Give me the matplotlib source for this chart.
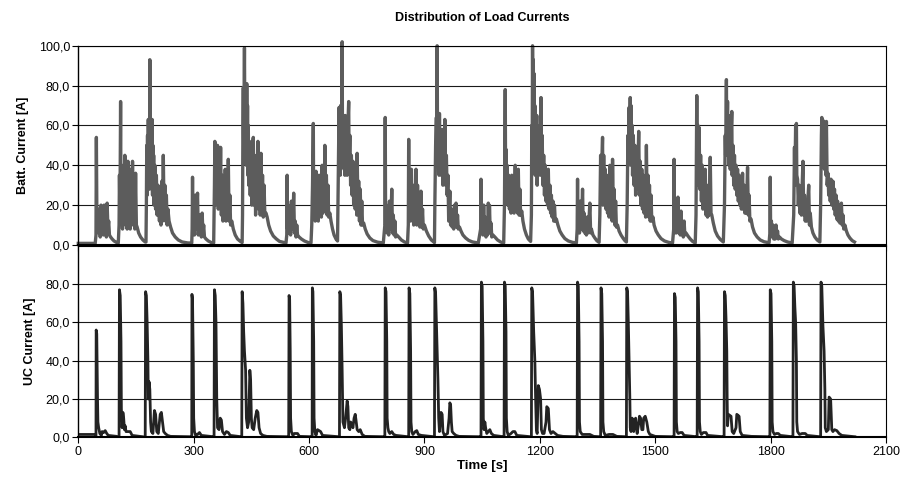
import numpy as np
import matplotlib
matplotlib.use('Agg')
from matplotlib import pyplot as plt
from matplotlib.ticker import FuncFormatter

plt.rcParams['font.family'] = ['Liberation Sans', 'DejaVu Sans']

# Battery current, (time [s], current [A])
batt_pts = [
    (0, 0.8), (44, 0.8),
    # 46 s
    (46, 5), (47, 54), (48.5, 8), (51, 18), (53, 6), (55, 16), (57, 4), (59, 20), (61, 7), (63, 14), (65, 5),
    (67, 20), (69, 8), (71, 15), (73, 4), (75, 21), (77, 8), (79, 12), (81, 5), (84, 4), (88, 3), (93, 2), (100, 1.2), (104, 1),
    # 106 s
    (106, 10), (107, 35), (108, 20), (109, 38), (110, 72), (111, 15), (113, 30), (115, 8), (117, 40), (119, 12), (121, 45),
    (123, 10), (125, 35), (127, 8), (129, 42), (131, 15), (133, 30), (135, 8), (137, 38), (139, 12), (141, 42), (143, 10),
    (145, 32), (147, 8), (149, 36), (151, 10), (153, 9), (157, 6), (162, 4), (168, 2.5), (174, 1.5), (176, 1.5),
    # 176 s
    (177, 20), (178, 50), (179, 25), (180, 55), (181, 30), (182, 63), (183, 35), (184, 60), (185, 28), (186, 93), (187, 40),
    (188, 58), (189, 30), (190, 55), (191, 35), (192, 63), (193, 25), (194, 50), (195, 30), (196, 45), (197, 20), (199, 40),
    (201, 18), (203, 35), (205, 15), (207, 30), (209, 20), (211, 12), (213, 25), (215, 10), (217, 32), (219, 12), (221, 45),
    (223, 15), (225, 30), (227, 12), (229, 25), (231, 10), (233, 18), (236, 12), (240, 9), (245, 6), (252, 4), (260, 2.5),
    (270, 1.5), (285, 1), (295, 1),
    # 297 s
    (296, 8), (297, 34), (298, 8), (300, 20), (302, 5), (304, 25), (306, 8), (308, 18), (310, 26), (312, 5), (314, 15),
    (316, 6), (318, 12), (320, 4), (322, 16), (324, 6), (326, 10), (328, 4), (332, 3), (338, 2), (346, 1.2), (352, 1),
    # 353 s
    (354, 30), (355, 52), (356, 20), (358, 45), (360, 25), (362, 50), (364, 18), (366, 40), (368, 20), (370, 49), (372, 15),
    (374, 35), (376, 12), (378, 30), (380, 15), (382, 38), (384, 12), (386, 28), (388, 14), (390, 43), (392, 12), (394, 25),
    (396, 10), (399, 12), (403, 8), (408, 5), (414, 3), (420, 2), (426, 1.2),
    # 427 s
    (427, 15), (428, 60), (429, 79), (430, 50), (431, 70), (432, 99), (433, 60), (434, 80), (435, 55), (436, 65), (437, 40),
    (438, 81), (439, 45), (440, 70), (441, 35), (442, 60), (443, 30), (445, 52), (447, 25), (449, 45), (451, 20), (453, 50),
    (455, 54), (457, 20), (459, 42), (461, 15), (463, 45), (465, 20), (467, 52), (469, 18), (471, 40), (473, 15), (475, 46),
    (477, 18), (479, 35), (481, 14), (483, 30), (485, 15), (488, 16), (491, 14), (495, 10), (500, 7), (507, 4.5), (515, 3),
    (523, 1.8), (535, 1.2), (540, 1),
    # 542 s
    (542, 5), (543, 35), (544, 8), (546, 20), (548, 6), (550, 15), (552, 5), (554, 22), (556, 8), (558, 12), (560, 26),
    (562, 6), (564, 12), (566, 4), (568, 10), (570, 5), (574, 4), (580, 3), (588, 2), (598, 1.2), (605, 1),
    # 607 s
    (607, 10), (609, 30), (611, 61), (612, 15), (614, 35), (616, 12), (618, 37), (620, 15), (622, 30), (624, 12), (626, 35),
    (628, 18), (630, 28), (632, 14), (634, 40), (636, 16), (638, 30), (640, 18), (641, 50), (643, 20), (645, 35), (647, 15),
    (649, 30), (651, 14), (654, 16), (657, 12), (661, 8), (665, 5), (670, 3), (674, 2),
    # 675 s
    (675, 20), (677, 60), (678, 69), (679, 40), (680, 62), (681, 35), (682, 70), (683, 45), (684, 65), (685, 40), (686, 102),
    (687, 45), (688, 65), (689, 40), (690, 60), (691, 38), (692, 55), (693, 35), (694, 65), (695, 40), (697, 58), (699, 35),
    (701, 60), (703, 72), (704, 40), (706, 55), (708, 30), (710, 45), (712, 25), (714, 42), (716, 20), (718, 40), (720, 18),
    (722, 38), (724, 15), (725, 46), (727, 18), (729, 32), (731, 12), (733, 28), (735, 10), (737, 22), (739, 10), (742, 11),
    (746, 8), (751, 5.5), (758, 3.5), (766, 2.2), (778, 1.4), (793, 1),
    # 797 s
    (797, 10), (798, 64), (799, 10), (801, 20), (803, 6), (805, 15), (807, 5), (809, 22), (811, 8), (813, 14), (815, 28),
    (817, 6), (819, 15), (821, 5), (823, 12), (825, 4), (828, 5), (833, 4), (840, 2.5), (848, 1.5), (856, 1),
    # 858 s
    (858, 10), (859, 53), (860, 15), (862, 30), (864, 12), (866, 38), (868, 15), (870, 30), (872, 10), (874, 25), (876, 12),
    (878, 38), (880, 10), (882, 30), (884, 12), (886, 22), (888, 9), (891, 27), (893, 9), (895, 18), (897, 8), (900, 10),
    (905, 7), (911, 4.5), (918, 2.5), (926, 1.2),
    # 927 s
    (927, 20), (929, 50), (931, 64), (932, 45), (933, 100), (934, 50), (935, 64), (936, 40), (937, 60), (938, 35), (939, 66),
    (940, 40), (942, 55), (944, 35), (946, 58), (948, 30), (950, 50), (952, 35), (953, 63), (955, 30), (957, 45), (959, 25),
    (961, 35), (963, 12), (965, 22), (966, 27), (968, 10), (970, 18), (972, 9), (974, 16), (976, 8), (978, 20), (980, 10),
    (982, 21), (984, 9), (986, 15), (988, 8), (991, 9), (995, 7), (1000, 5), (1007, 3.5), (1015, 2.3), (1025, 1.5), (1040, 1),
    # 1046 s
    (1046, 8), (1047, 33), (1048, 6), (1050, 18), (1052, 5), (1054, 20), (1056, 6), (1058, 14), (1060, 4), (1062, 12),
    (1064, 5), (1066, 21), (1068, 7), (1069, 20), (1071, 6), (1073, 11), (1075, 4), (1078, 5), (1083, 4), (1090, 2.5),
    (1098, 1.5), (1106, 1),
    # 1108 s
    (1108, 20), (1110, 78), (1111, 30), (1112, 48), (1114, 25), (1115, 40), (1117, 20), (1119, 35), (1121, 18), (1123, 32),
    (1125, 16), (1127, 35), (1129, 18), (1131, 30), (1133, 16), (1136, 40), (1138, 20), (1140, 30), (1142, 16), (1144, 38),
    (1146, 15), (1148, 28), (1150, 15), (1153, 17), (1156, 12), (1160, 8), (1165, 5), (1170, 3), (1176, 1.8),
    # 1178 s
    (1178, 15), (1179, 60), (1180, 40), (1181, 100), (1182, 55), (1183, 93), (1184, 45), (1185, 86), (1186, 40), (1187, 70),
    (1188, 35), (1189, 60), (1190, 42), (1192, 65), (1193, 30), (1195, 55), (1197, 38), (1199, 60), (1201, 35), (1203, 74),
    (1204, 40), (1206, 55), (1208, 30), (1210, 45), (1212, 25), (1214, 40), (1216, 22), (1218, 35), (1220, 20), (1222, 38),
    (1224, 18), (1226, 30), (1228, 16), (1230, 25), (1232, 14), (1234, 22), (1236, 12), (1238, 20), (1240, 12), (1243, 13),
    (1247, 10), (1252, 7), (1258, 5), (1265, 3.2), (1274, 2), (1285, 1.3), (1295, 1),
    # 1297 s
    (1297, 8), (1298, 33), (1299, 7), (1301, 18), (1303, 6), (1305, 22), (1307, 8), (1309, 15), (1311, 28), (1313, 7),
    (1315, 16), (1317, 6), (1319, 12), (1321, 5), (1323, 14), (1325, 6), (1327, 10), (1330, 21), (1332, 6), (1334, 8),
    (1338, 5), (1343, 3.5), (1348, 2.2), (1354, 1.3),
    # 1356 s
    (1356, 15), (1358, 45), (1359, 25), (1361, 40), (1363, 54), (1364, 20), (1366, 45), (1368, 22), (1370, 38), (1372, 18),
    (1374, 35), (1376, 16), (1378, 30), (1380, 14), (1382, 40), (1384, 15), (1386, 30), (1388, 12), (1389, 43), (1391, 14),
    (1393, 28), (1395, 10), (1397, 22), (1399, 9), (1402, 10), (1406, 7), (1411, 5), (1416, 3.5), (1421, 2.2), (1425, 1.5),
    # 1427 s
    (1427, 20), (1429, 55), (1430, 40), (1432, 69), (1433, 45), (1435, 74), (1436, 50), (1437, 70), (1438, 40), (1440, 60),
    (1441, 35), (1443, 55), (1445, 30), (1447, 50), (1449, 25), (1451, 45), (1453, 28), (1455, 40), (1457, 57), (1459, 25),
    (1461, 42), (1463, 20), (1465, 38), (1467, 18), (1469, 35), (1471, 16), (1473, 30), (1475, 14), (1477, 50), (1479, 16),
    (1481, 35), (1483, 14), (1485, 30), (1487, 12), (1489, 25), (1491, 12), (1494, 14), (1497, 10), (1502, 7), (1508, 5),
    (1515, 3.2), (1524, 2), (1535, 1.3), (1545, 1),
    # 1548 s
    (1548, 8), (1549, 43), (1550, 8), (1552, 18), (1554, 6), (1556, 20), (1558, 8), (1559, 24), (1561, 6), (1563, 12),
    (1565, 5), (1567, 17), (1569, 6), (1571, 10), (1573, 4), (1575, 12), (1577, 5), (1580, 6), (1585, 4.5), (1591, 3),
    (1597, 1.8), (1604, 1),
    # 1606 s
    (1606, 15), (1607, 50), (1608, 75), (1609, 40), (1611, 60), (1612, 30), (1614, 59), (1616, 28), (1618, 45), (1620, 22),
    (1622, 40), (1624, 18), (1626, 35), (1628, 20), (1630, 38), (1632, 15), (1634, 30), (1636, 14), (1638, 28), (1640, 15),
    (1643, 44), (1645, 16), (1647, 15), (1651, 11), (1656, 7), (1662, 4.5), (1669, 2.8), (1677, 1.5),
    # 1680 s
    (1680, 20), (1682, 55), (1683, 45), (1685, 83), (1686, 50), (1688, 72), (1689, 45), (1691, 65), (1692, 40), (1694, 60),
    (1695, 38), (1697, 55), (1699, 67), (1700, 35), (1702, 50), (1704, 30), (1706, 45), (1708, 28), (1710, 40), (1712, 25),
    (1714, 38), (1716, 22), (1718, 35), (1720, 20), (1722, 33), (1724, 18), (1727, 36), (1729, 18), (1731, 30), (1733, 16),
    (1735, 28), (1737, 16), (1740, 39), (1742, 15), (1744, 25), (1746, 12), (1749, 13), (1753, 9), (1758, 6), (1765, 4),
    (1773, 2.5), (1783, 1.6), (1796, 1.1),
    # 1798 s
    (1798, 6), (1799, 34), (1800, 6), (1802, 12), (1804, 4), (1806, 10), (1808, 3), (1810, 8), (1812, 3), (1814, 10),
    (1816, 4), (1818, 7), (1820, 3), (1823, 4), (1828, 3), (1835, 2.2), (1844, 1.5), (1856, 1),
    # 1860 s
    (1860, 15), (1862, 49), (1863, 30), (1865, 60), (1866, 55), (1867, 61), (1868, 35), (1870, 33), (1872, 20), (1874, 30),
    (1876, 16), (1878, 28), (1880, 15), (1882, 30), (1884, 42), (1886, 15), (1888, 25), (1890, 12), (1892, 22), (1894, 12),
    (1896, 20), (1899, 30), (1901, 10), (1903, 16), (1906, 9), (1910, 6), (1915, 4), (1921, 2.5), (1928, 1.5),
    # 1930 s
    (1930, 20), (1932, 55), (1933, 64), (1934, 45), (1935, 63), (1936, 40), (1938, 62), (1940, 38), (1942, 60), (1944, 35),
    (1945, 62), (1947, 30), (1949, 36), (1951, 25), (1953, 33), (1955, 22), (1957, 33), (1959, 20), (1962, 32), (1964, 18),
    (1966, 28), (1968, 15), (1970, 25), (1972, 13), (1974, 22), (1976, 12), (1978, 20), (1980, 11), (1984, 21), (1986, 10),
    (1988, 15), (1990, 8), (1993, 10), (1997, 7), (2001, 5), (2006, 3.5), (2012, 2.2), (2018, 1.5),
]

# Ultracapacitor current, (time [s], current [A])
uc_pts = [
    (0, 1.5), (44, 1.5), (45.5, 0.5),
    (46, 0), (46.5, 56), (48, 54), (50, 20), (51, 8), (53, 5), (56, 2), (60, 1), (62, 3), (66, 2.5), (70, 3.5), (74, 2),
    (78, 1), (100, 0.5),
    (106, 0), (107, 77), (109, 74), (111, 50), (112, 15), (114, 5), (116, 13), (118, 10), (120, 4), (122, 6), (124, 3),
    (128, 3), (135, 3), (140, 1), (168, 0.3),
    (174, 0), (175, 76), (177, 74), (179, 60), (181, 40), (182, 20), (184, 29), (186, 25), (188, 8), (190, 3), (194, 2),
    (198, 14), (201, 12), (204, 3), (208, 2), (213, 12), (216, 13), (219, 8), (222, 3), (226, 2), (232, 1), (240, 0.5),
    (294, 0.3),
    (295, 0), (295.5, 74.6), (297, 72), (299, 40), (300, 10), (302, 3), (305, 1), (310, 1.5), (315, 2.5), (320, 1),
    (352, 0.3),
    (353, 0), (354, 77), (356, 74), (358, 60), (360, 20), (362, 5), (366, 4), (369, 10), (372, 9), (375, 3), (380, 1.5),
    (385, 3), (390, 2.5), (395, 1), (424, 0.3),
    (425, 0), (426, 76), (428, 70), (430, 55), (432, 45), (435, 35), (437, 10), (440, 5), (443, 8), (446, 35), (448, 30),
    (450, 10), (452, 5), (456, 4), (460, 10), (464, 14), (467, 13), (470, 5), (474, 2), (480, 1), (490, 0.5), (546, 0.3),
    (547, 0), (548, 74), (549.5, 72), (551, 45), (552, 10), (554, 3), (558, 1), (562, 2), (570, 2), (575, 0.5), (607, 0.3),
    (608, 0), (608.5, 78), (610, 76), (612, 50), (613, 10), (615, 3), (618, 1), (622, 4), (626, 3.5), (630, 3), (635, 1),
    (678, 0.3),
    (679, 0), (680, 76), (682, 74), (684, 58), (686, 35), (688, 8), (692, 5), (695, 10), (699, 19), (701, 16), (703, 5),
    (706, 4), (708, 8), (711, 7), (714, 5), (717, 10), (720, 12), (722, 9), (725, 4), (729, 3), (733, 4), (738, 1.5),
    (745, 0.5), (796, 0.3),
    (797, 0), (798, 78), (800, 76), (802, 50), (803, 10), (805, 5), (807, 3), (810, 2), (815, 3), (820, 1.5), (826, 1),
    (858, 0.3),
    (859, 0), (860, 78), (862, 75), (864, 45), (865, 8), (867, 3), (870, 1.5), (876, 3), (880, 3.5), (884, 1.5), (892, 1),
    (925, 0.3),
    (926, 0), (927, 78), (929, 75), (931, 60), (933, 45), (935, 30), (937, 10), (939, 3), (941, 8), (943, 13), (946, 12),
    (948, 3), (952, 1), (960, 2), (964, 10), (966, 18), (968, 17), (970, 8), (972, 3), (976, 2), (982, 1), (990, 0.5),
    (1046, 0.3),
    (1047, 0), (1048, 81), (1050, 79), (1052, 50), (1053, 10), (1055, 4), (1057, 8), (1059, 5), (1062, 2), (1066, 3),
    (1070, 4), (1074, 2), (1080, 1), (1106, 0.3),
    (1107, 0), (1108, 81), (1110, 79), (1112, 55), (1113, 10), (1115, 3), (1118, 1), (1125, 2), (1130, 3), (1135, 3),
    (1140, 1), (1177, 0.3),
    (1178, 0), (1179, 78), (1181, 76), (1184, 55), (1187, 40), (1189, 20), (1191, 4), (1193, 2), (1196, 27), (1199, 25),
    (1202, 20), (1204, 4), (1207, 2), (1211, 2), (1216, 8), (1218, 16), (1222, 15), (1225, 4), (1229, 2), (1234, 3),
    (1240, 2), (1246, 1), (1260, 0.5), (1296, 0.3),
    (1297, 0), (1298, 81), (1300, 79), (1302, 50), (1303, 8), (1305, 3), (1310, 1.5), (1318, 1.5), (1330, 1.5),
    (1340, 0.5), (1357, 0.3),
    (1358, 0), (1359, 78), (1361, 75), (1363, 50), (1364, 8), (1366, 3), (1370, 1), (1380, 1.5), (1390, 1.5), (1400, 0.5),
    (1424, 0.3),
    (1425, 0), (1426, 78), (1428, 76), (1430, 60), (1432, 40), (1434, 20), (1435, 5), (1437, 3), (1440, 10), (1442, 9),
    (1444, 3), (1446, 8), (1449, 10), (1451, 5), (1453, 2), (1456, 6), (1459, 11), (1462, 10), (1465, 4), (1468, 4),
    (1470, 10), (1474, 11), (1478, 8), (1482, 3), (1486, 1.5), (1500, 0.5), (1548, 0.3),
    (1549, 0), (1550, 75), (1552, 73), (1554, 50), (1555, 8), (1557, 3), (1560, 2), (1565, 2.5), (1570, 2.5), (1575, 1),
    (1608, 0.3),
    (1609, 0), (1610, 78), (1612, 76), (1614, 50), (1615, 8), (1617, 3), (1620, 1.5), (1625, 2.5), (1632, 2.5), (1636, 1),
    (1678, 0.3),
    (1679, 0), (1680, 76), (1682, 74), (1684, 62), (1686, 45), (1687, 20), (1688, 6), (1690, 12), (1697, 11), (1700, 3),
    (1704, 2), (1710, 5), (1712, 12), (1718, 11), (1721, 3), (1726, 1), (1750, 0.5), (1797, 0.3),
    (1798, 0), (1799, 77), (1801, 75), (1803, 50), (1804, 8), (1806, 3), (1810, 1.5), (1815, 2), (1820, 2), (1825, 1),
    (1857, 0.3),
    (1858, 0), (1859, 81), (1861, 79), (1863, 68), (1865, 60), (1867, 40), (1868, 8), (1870, 3), (1875, 1.5), (1882, 2),
    (1890, 2), (1895, 1), (1929, 0.3),
    (1930, 0), (1931, 81), (1933, 79), (1936, 58), (1939, 45), (1941, 25), (1942, 5), (1945, 3), (1950, 4), (1952, 21),
    (1956, 20), (1959, 4), (1962, 3), (1966, 4), (1972, 3.5), (1978, 2), (1985, 1), (2019, 0.3),
]

x_ticks = [0, 300, 600, 900, 1200, 1500, 1800, 2100]
batt_yticks = [0, 20, 40, 60, 80, 100]
uc_yticks = [0, 20, 40, 60, 80]

batt_t, batt_a = zip(*batt_pts)
uc_t, uc_a = zip(*uc_pts)


def comma_fmt(v, pos):
    return '{:.1f}'.format(v).replace('.', ',')


fig = plt.figure(figsize=(9.03, 4.87), dpi=100)
ax1 = fig.add_axes([0.0867, 0.497, 0.8945, 0.409])
ax2 = fig.add_axes([0.0867, 0.102, 0.8945, 0.3935])

for ax, yt in ((ax1, batt_yticks), (ax2, uc_yticks)):
    ax.set_xlim(0, 2100)
    ax.set_ylim(0, 100)
    ax.set_xticks(x_ticks)
    ax.set_yticks(yt)
    ax.yaxis.set_major_formatter(FuncFormatter(comma_fmt))
    ax.grid(True, axis='y', color='#1a1a1a', linewidth=0.8)
    ax.set_axisbelow(True)
    ax.tick_params(direction='out', length=4, width=0.8, labelsize=9, pad=2, colors='black')
    for s in ax.spines.values():
        s.set_linewidth(0.8)
        s.set_color('black')
    ax.spines['bottom'].set_linewidth(1.5)
    ax.spines['left'].set_linewidth(1.0)

ax1.tick_params(labelbottom=False)

ax1.plot(batt_t, batt_a, color='#5c5c5c', linewidth=2.4, clip_on=False)
ax2.plot(uc_t, uc_a, color='#232323', linewidth=2.0)

ax1.set_ylabel('Batt. Current [A]', fontsize=9, fontweight='bold', labelpad=7)
ax2.set_ylabel('UC Current [A]', fontsize=9, fontweight='bold', labelpad=7)
ax2.set_xlabel('Time [s]', fontsize=9.5, fontweight='bold', labelpad=2)
fig.suptitle('Distribution of Load Currents', fontsize=9, fontweight='bold', x=0.534, y=0.975)

fig.savefig('out.png', dpi=100)
